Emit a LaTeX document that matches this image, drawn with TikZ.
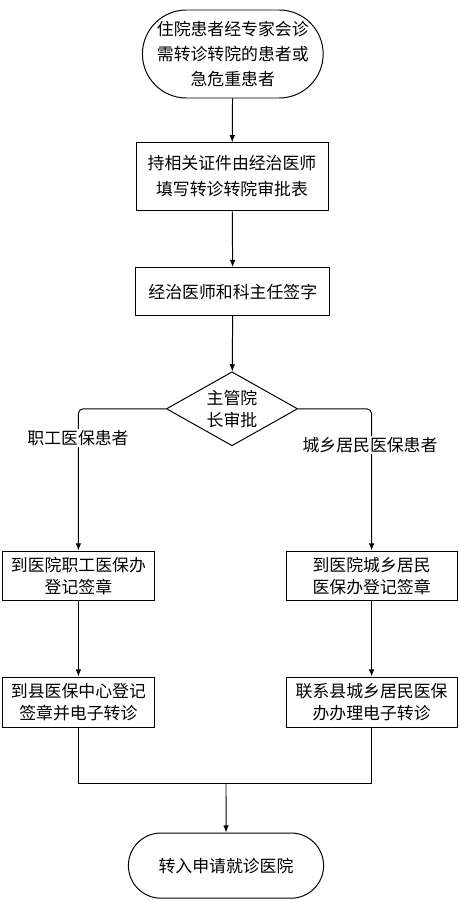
\documentclass[tikz,border=0pt]{standalone}
\usepackage{fontspec}
\setmainfont{Noto Sans CJK SC}
\usetikzlibrary{arrows.meta,shapes.geometric,shapes.misc}

\begin{document}
\begin{tikzpicture}[line width=0.7pt,>={Latex[length=1.8mm,width=1.4mm]},
  font=\fontsize{12}{15.6}\selectfont,
  caja/.style={draw,rectangle,align=center,inner sep=0pt},
  term/.style={draw,rounded rectangle,align=center,inner sep=0pt},
  decide/.style={draw,diamond,align=center,inner sep=0pt,aspect=1.77,
    minimum width=3.28cm,minimum height=1.85cm},
  etiq/.style={fill=white,inner sep=1pt}]
  \useasboundingbox (0,0) rectangle (11.45,-22.5);
  % columna central
  \node[term,minimum width=4.43cm,minimum height=2.2cm] (ini) at (5.82,-1.35)
    {住院患者经专家会诊\\[2pt]需转诊转院的患者或\\[2pt]急危重患者};
  \node[caja,minimum width=4.8cm,minimum height=1.68cm] (b1) at (5.8,-4.41)
    {持相关证件由经治医师\\[3pt]填写转诊转院审批表};
  \node[caja,minimum width=4.85cm,minimum height=1.2cm] (b2) at (5.82,-7.29)
    {经治医师和科主任签字};
  \node[decide] (d) at (5.8,-10.22) {主管院\\长审批};
  % ramas
  \node[caja,minimum width=3.78cm,minimum height=1.23cm] (l1) at (1.96,-14.39)
    {到医院职工医保办\\登记签章};
  \node[caja,minimum width=3.78cm,minimum height=1.25cm] (l2) at (1.96,-17.55)
    {到县医保中心登记\\签章并电子转诊};
  \node[caja,minimum width=4.28cm,minimum height=1.23cm] (r1) at (9.29,-14.39)
    {到医院城乡居民\\医保办登记签章};
  \node[caja,minimum width=4.28cm,minimum height=1.25cm] (r2) at (9.29,-17.55)
    {联系县城乡居民医保\\办办理电子转诊};
  % final
  \node[term,minimum width=4.88cm,minimum height=1.63cm] (fin) at (5.65,-21.64)
    {转入申请就诊医院};
  \coordinate (j) at (5.65,-19.58);
  % flechas
  \draw[->] (ini) -- (b1);
  \draw[->] (b1) -- (b2);
  \draw[->] (b2) -- (d);
  \draw[->,rounded corners=0.12cm] (d.west) -| (l1.north);
  \draw[->,rounded corners=0.12cm] (d.east) -| (r1.north);
  \draw[->] (l1) -- (l2);
  \draw[->] (r1) -- (r2);
  \draw (l2.south) |- (j) -| (r2.south);
  \draw[->] (j) -- (fin);
  % etiquetas
  \node[etiq] (e1) at (1.95,-10.95) {职工医保患者};
  \node[etiq] (e2) at (9.25,-11.13) {城乡居民医保患者};
\end{tikzpicture}
\end{document}
